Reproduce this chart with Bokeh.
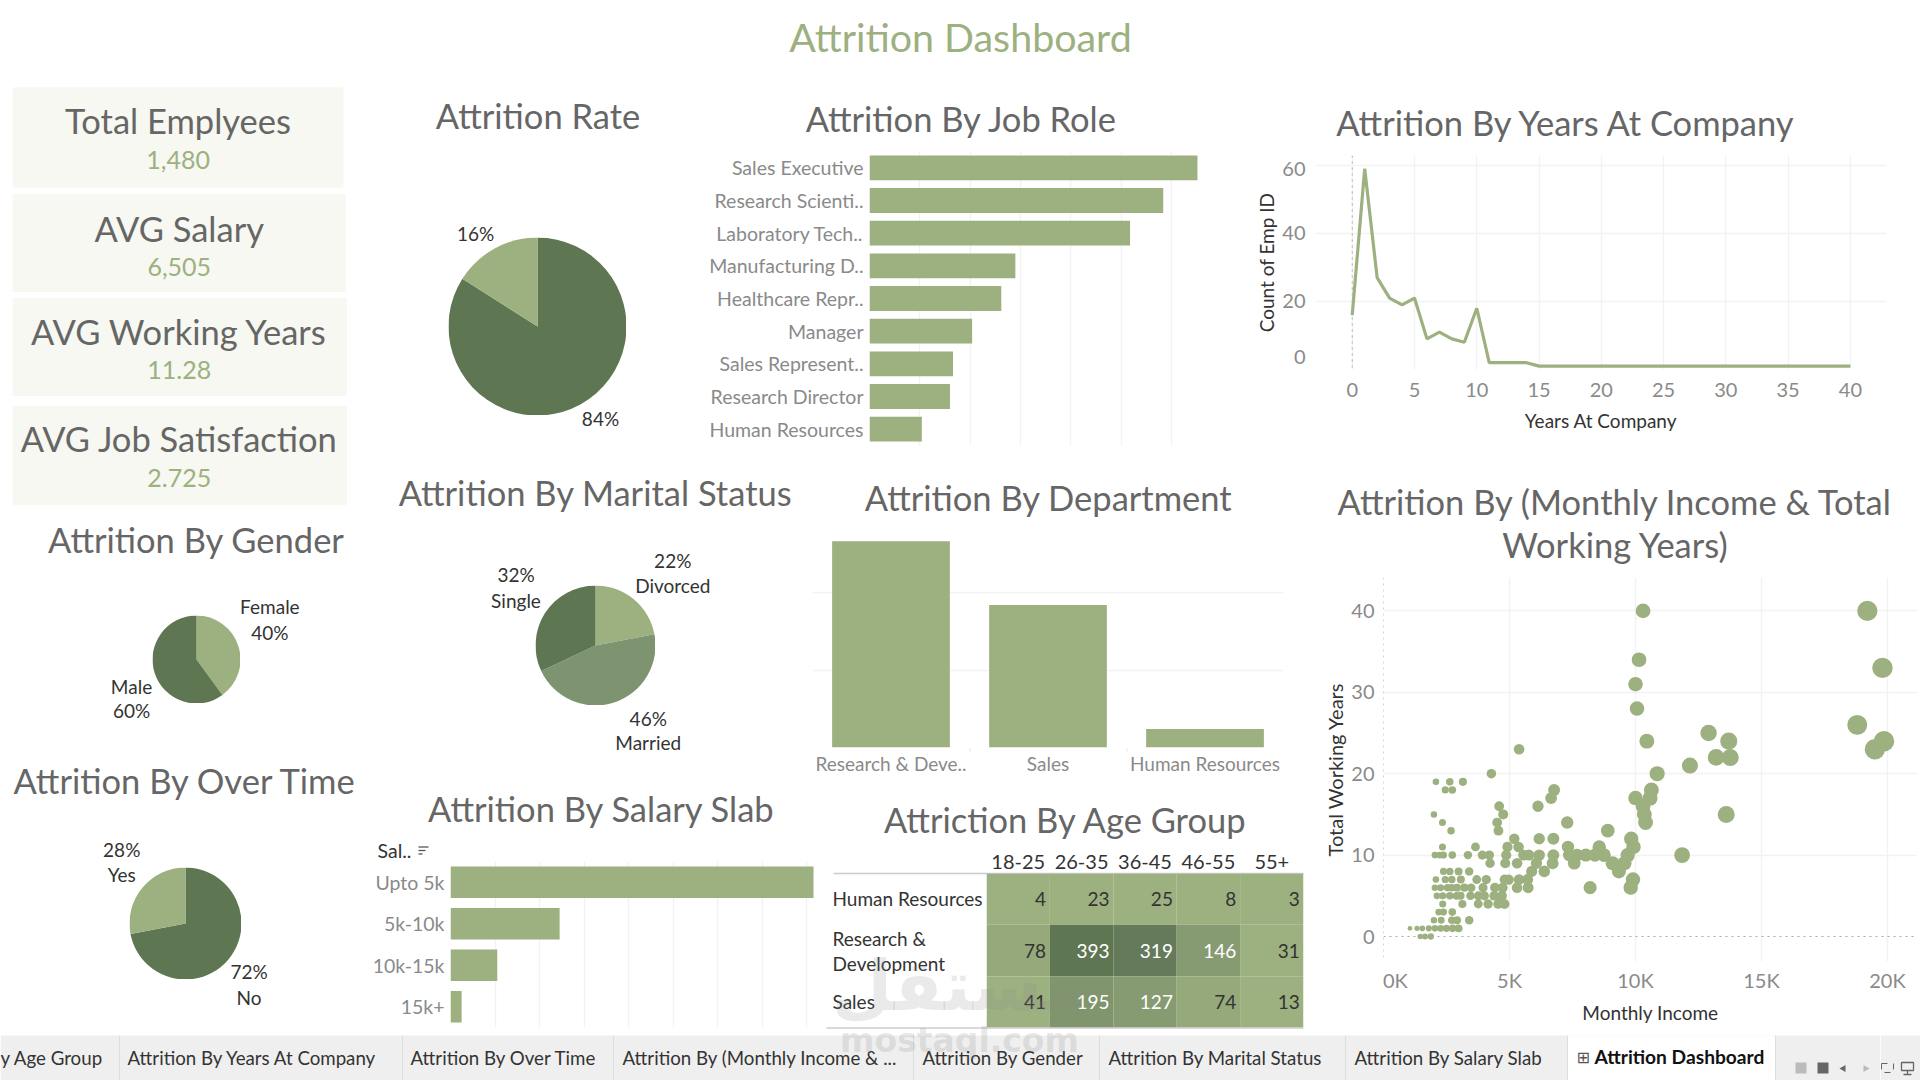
import math
from bokeh.core.properties import value
from bokeh.embed import file_html
from bokeh.resources import INLINE
from bokeh.plotting import figure
from bokeh.layouts import column
from bokeh.models import (ColumnDataSource, FactorRange, FixedTicker, Grid, Range1d, Span,
                          LinearColorMapper)
from bokeh.transform import dodge

# ---------- data ----------
kpi_labels = ["Total Emplyees", "AVG Salary", "AVG Working Years", "AVG Job Satisfaction"]
kpi_values = ["1,480", "6,505", "11.28", "2.725"]

rate_values = [84, 16]
gender_values = [40, 60]
marital_values = [22, 46, 32]
overtime_values = [72, 28]

role_names = ["Sales Executive", "Research Scienti..", "Laboratory Tech..", "Manufacturing D..",
              "Healthcare Repr..", "Manager", "Sales Represent..", "Research Director", "Human Resources"]
role_counts = [326, 292, 259, 145, 131, 102, 83, 80, 52]

dept_names = ["Research & Deve..", "Sales", "Human Resources"]
dept_counts = [133, 92, 12]

slab_names = ["Upto 5k", "5k-10k", "10k-15k", "15k+"]
slab_counts = [163, 49, 21, 5]

age_groups = ["18-25", "26-35", "36-45", "46-55", "55+"]
age_depts = ["Human Resources", "Research & Development", "Sales"]
age_hr = [4, 23, 25, 8, 3]
age_rd = [78, 393, 319, 146, 31]
age_sales = [41, 195, 127, 74, 13]

company_years = list(range(0, 41))
company_counts = [16, 59, 27, 21, 19, 21, 9, 11, 9, 8, 18, 2, 2, 2, 2,
                  1, 1, 1, 1, 1, 1, 1, 1, 1, 1, 1, 1, 1, 1, 1, 1, 1, 1, 1, 1, 1, 1, 1, 1, 1, 1]

scatter_years = [40, 34, 33, 31, 28, 26, 25, 24, 23, 22, 21, 20, 19, 18, 17, 16, 15, 14, 13, 12,
                 11, 10, 9, 8, 7, 6, 5, 4, 3, 2, 1, 0]
scatter_income = [
    [19.2, 10.3], [10.14], [19.8], [10.0], [10.06], [18.8], [12.9], [19.86, 13.7, 10.45],
    [19.5, 5.38], [13.2, 13.76], [12.16], [10.86, 4.28], [2.08, 2.63, 3.15],
    [10.63, 6.77, 2.45, 2.73], [10.58, 10.0, 6.65], [10.3, 6.13, 4.59],
    [13.6, 10.35, 4.75, 2.0], [10.4, 7.29, 4.51, 2.34], [8.9, 4.56, 2.68],
    [9.83, 6.74, 6.18, 5.19], [9.92, 8.56, 7.32, 5.36, 4.92, 3.65, 2.34],
    [11.85, 9.69, 8.75, 8.39, 8.03, 7.68, 7.37, 6.74, 6.18, 5.77, 5.56, 4.87, 4.2, 3.92, 3.35,
     2.04, 2.23, 2.38, 2.73],
    [9.56, 9.09, 7.57, 6.71, 6.07, 5.3, 4.83, 4.23],
    [9.34, 6.38, 5.88, 3.4, 2.38, 2.63, 2.98],
    [9.9, 5.38, 4.97, 4.81, 5.72, 3.7, 4.08, 2.08, 2.45, 2.71, 3.07],
    [9.81, 8.2, 5.74, 5.3, 4.42, 4.73, 3.95, 3.48, 3.21, 2.92, 2.04, 2.27, 2.54, 2.71],
    [3.45, 3.76, 4.0, 4.39, 4.7, 2.12, 2.35, 2.63, 2.9, 3.06],
    [3.76, 4.15, 4.55, 4.8, 3.13, 2.35],
    [2.19, 2.38, 2.73],
    [3.4, 2.71, 2.92, 2.0, 2.29],
    [1.05, 1.33, 1.54, 1.8, 2.04, 2.27, 2.5, 2.74, 2.98],
    [1.46, 1.65, 1.88],
]

tab_labels = ["y Age Group", "Attrition By Years At Company", "Attrition By Over Time",
              "Attrition By (Monthly Income & ...", "Attrition By Gender", "Attrition By Marital Status",
              "Attrition By Salary Slab"]

# ---------- style ----------
FONT = "Lato"
LIGHT, MID, DARK = "#9DB07F", "#7E9470", "#5F7653"
TITLE_C, TICK_C, AX_C, GRID_C = "#666666", "#8a8a8a", "#333333", "#F2F2F2"
S = 1920 / 1568

placed = []


def place(fig, left, top):
    wrap = column(fig, width=fig.width, height=fig.height,
                  styles={"position": "absolute", "left": f"{left:.0f}px", "top": f"{top:.0f}px"})
    placed.append(wrap)
    return fig


def blank(fig):
    fig.background_fill_color = None
    fig.border_fill_color = None
    fig.outline_line_color = None
    fig.grid.visible = False
    return fig


def canvas(x0, y0, x1, y1):
    """A page-coordinate layer with no axes."""
    fig = figure(width=int(x1 - x0), height=int(y1 - y0), x_range=Range1d(x0, x1), y_range=Range1d(y1, y0),
                 min_border=0, output_backend="svg", toolbar_location=None, x_axis_location=None, y_axis_location=None)
    blank(fig)
    place(fig, x0, y0)
    return fig


def frame(x0, y0, x1, y1, x_range, y_range, l=90, r=10, t=10, b=60, **kw):
    fig = figure(width=int(x1 - x0 + l + r), height=int(y1 - y0 + t + b), x_range=x_range, y_range=y_range,
                 min_border_left=l, min_border_right=r, min_border_top=t, min_border_bottom=b,
                 output_backend="svg", toolbar_location=None, **kw)
    blank(fig)
    place(fig, x0 - l, y0 - t)
    return fig


def style_axis(ax, size="20px", color=TICK_C, standoff=6, label_standoff=5):
    ax.axis_line_color = None
    ax.major_tick_line_color = None
    ax.minor_tick_line_color = None
    ax.major_tick_in = 0
    ax.major_tick_out = 0
    ax.minor_tick_in = 0
    ax.minor_tick_out = 0
    ax.major_label_standoff = standoff
    ax.axis_label_standoff = label_standoff
    ax.major_label_text_font = FONT
    ax.major_label_text_font_size = size
    ax.major_label_text_color = color
    ax.axis_label_text_font = FONT
    ax.axis_label_text_font_style = "normal"
    ax.axis_label_text_color = AX_C
    ax.axis_label_text_font_size = "19px"


def grid(fig, dim, ticks):
    fig.add_layout(Grid(dimension=dim, ticker=FixedTicker(ticks=ticks), grid_line_color=GRID_C, grid_line_width=1.3))


# ---------- background page ----------
bg = canvas(0, 0, 1904, 1034)
tabs = canvas(0, 1034, 1880, 1080)
tabs_end = canvas(1880, 1034, 1920, 1080)


def label(x, y, text, size, color=TITLE_C, align="center", style="normal", font=FONT, target=None, alpha=1.0):
    (target or bg).text(x=[x], y=[y], text=[text], text_font=value(font), text_font_size=value(f"{size}px"),
                        text_color=color, text_align=align, text_baseline="middle",
                        text_font_style=style, text_alpha=alpha)


def box(x0, y0, x1, y1, color, target=None):
    (target or bg).quad(left=[x0], right=[x1], top=[y0], bottom=[y1], fill_color=color, line_color=None)


def line(x0, y0, x1, y1, color, width=1.0, target=None):
    (target or bg).line(x=[x0, x1], y=[y0, y1], line_color=color, line_width=width)


label(784 * S, 29.5 * S, "Attrition Dashboard", 39.4, color=LIGHT)

cards = [(10, 71, 280, 153, 145, 98, 130), (10, 158, 282, 238, 146, 186, 217.5),
         (10, 243, 283, 323, 146, 270, 301.5), (10, 331, 283, 412, 146, 358, 390)]
for (x0, y0, x1, y1, cx, ly, vy), name, val in zip(cards, kpi_labels, kpi_values):
    box(x0 * S, y0 * S, x1 * S, y1 * S, "#F6F8F1")
    label(cx * S, ly * S, name, 34.5)
    label(cx * S, vy * S, val, 25, color=LIGHT)

titles = [("Attrition Rate", 439, 94), ("Attrition By Job Role", 785, 96), ("Attrition By Years At Company", 1279, 100),
          ("Attrition By Marital Status", 486, 402), ("Attrition By Department", 856, 406),
          ("Attrition By (Monthly Income & Total", 1319, 409), ("Working Years)", 1319, 444),
          ("Attrition By Gender", 160, 440), ("Attrition By Over Time", 151, 637),
          ("Attrition By Salary Slab", 491, 660), ("Attriction By Age Group", 870, 669)]
for text, cx, cy in titles:
    label(cx * S, cy * S, text, 34.5)

pie_labels = [("16%", 388, 190), ("84%", 490, 341), ("Female", 220, 495), ("40%", 220, 516), ("Male", 107, 560),
              ("60%", 107, 580), ("22%", 549, 457), ("Divorced", 549, 478), ("32%", 421, 469), ("Single", 421, 490),
              ("46%", 529, 586), ("Married", 529, 606), ("28%", 99, 693), ("Yes", 99, 714), ("72%", 203, 793),
              ("No", 203, 814)]
for text, cx, cy in pie_labels:
    label(cx * S, cy * S, text, 19, color="#333333")

label(377, 850, "Sal..", 19.5, color="#333333", align="left")
for (x0, x1, yy) in [(418, 428, 846.5), (418, 425, 850), (418, 422, 853.5)]:
    line(x0, yy, x1, yy, "#555555", 1.3)

# table rules and row labels of the age heat map
line(833, 873, 1303, 873, "#cccccc", 1.5)
line(826, 1027.5, 1303, 1027.5, "#cccccc", 1.5)
line(806, 861, 806, 1027, "#f0f0f0", 1)
row_labels = [("Human Resources", 898), ("Research &", 938), ("Development", 963), ("Sales", 1001)]
for text, yy in row_labels:
    label(832, yy, text, 19, color="#333333", align="left")

# small separators under the department bars
for xx in [969.5, 1126.5]:
    line(xx, 748, xx, 751, "#E4E4E4", 1)

# tab bar
box(0, 1035, 1880, 1080, "#EFEFEF", target=tabs)
box(1880, 1035, 1920, 1080, "#EFEFEF", target=tabs_end)
box(1567, 1035, 1775, 1080, "#FFFFFF", target=tabs)
for xx in [119, 402, 613, 913, 1099, 1345, 1567, 1775]:
    line(xx, 1035, xx, 1080, "#DDDDDD", 1, target=tabs)
tab_x = [0, 127, 410, 622, 922, 1108, 1354]
for text, xx in zip(tab_labels, tab_x):
    label(xx, 1057, text, 18.7, color="#333333", align="left", target=tabs)
label(1576, 1057, "\u229e", 16, color="#555555", align="left", font="DejaVu Sans", target=tabs)
label(1594, 1056, "Attrition Dashboard", 19.2, color="#111111", align="left", style="bold", target=tabs)
box(1795, 1062, 1806, 1073, "#BBBBBB", target=tabs)
box(1817, 1062, 1828, 1073, "#666666", target=tabs)
tabs.scatter(x=[1843], y=[1068], size=7, marker="triangle", angle=math.pi / 2, fill_color="#666666", line_color=None)
tabs.scatter(x=[1865], y=[1068], size=7, marker="triangle", angle=-math.pi / 2, fill_color="#BBBBBB", line_color=None)
tabs_end.quad(left=[1881], right=[1893], top=[1063], bottom=[1072], fill_color=None, line_color="#666666", line_dash="dashed")
tabs_end.quad(left=[1901], right=[1913], top=[1062], bottom=[1070], fill_color=None, line_color="#666666", line_width=1.3)
line(1907, 1070, 1907, 1074, "#666666", 1.3, target=tabs_end)
line(1903, 1074, 1911, 1074, "#666666", 1.3, target=tabs_end)


# ---------- pies ----------
def pie(cx, cy, r, values, colors):
    fig = figure(width=int(2 * r), height=int(2 * r), x_range=Range1d(-1, 1), y_range=Range1d(-1, 1), min_border=0,
                 output_backend="svg", toolbar_location=None, x_axis_location=None, y_axis_location=None)
    blank(fig)
    place(fig, cx - r, cy - r)
    total = sum(values)
    acc, starts, ends = 0, [], []
    for v in values:
        starts.append(math.pi / 2 - 2 * math.pi * acc / total)
        acc += v
        ends.append(math.pi / 2 - 2 * math.pi * acc / total)
    src = ColumnDataSource(dict(start=starts, end=ends, color=colors))
    fig.wedge(x=0, y=0, radius=1, start_angle="start", end_angle="end", direction="clock",
              fill_color="color", line_color=None, source=src)
    return fig


pies = [pie(537.5, 325.7, 89, rate_values, [DARK, LIGHT]),
        pie(196, 658.8, 44, gender_values, [LIGHT, DARK]),
        pie(595, 645, 60, marital_values, [LIGHT, MID, DARK]),
        pie(185, 923, 56, overtime_values, [DARK, LIGHT])]


# ---------- horizontal bars ----------
def hbars(x0, y0, x1, y1, names, values, px_per_unit, step, left_pad, bar=0.76, size="19.5px"):
    fig = frame(x0, y0, x1, y1, Range1d(0, (x1 - x0) / px_per_unit), FactorRange(*names[::-1], range_padding=0, factor_padding=0),
                l=left_pad, r=4, t=4, b=4, x_axis_location=None)
    blank(fig)
    ticks = [step * i for i in range(0, int((x1 - x0) / px_per_unit / step) + 1)]
    grid(fig, 0, ticks)
    style_axis(fig.yaxis[0], size=size, standoff=6)
    fig.hbar(y=names, right=values, left=0, height=bar, fill_color=LIGHT, line_color=None)
    return fig


role_fig = hbars(869, 151, 1205, 445, role_names, role_counts, 1.006, 50, 180)
slab_fig = hbars(450, 861, 825, 1027, slab_names, slab_counts, 2.227, 20, 90)

# ---------- department ----------
dept_range = FactorRange(*dept_names, range_padding=0, factor_padding=0)
dept_fig = frame(812.5, 530, 1283.5, 747, dept_range, Range1d(0, 217 / 1.55), l=4, r=4, t=4, b=40, y_axis_location=None)
grid(dept_fig, 1, [0, 50, 100])
style_axis(dept_fig.xaxis[0], size="19px", standoff=4)
dept_fig.vbar(x=dept_names, top=dept_counts, width=0.75, fill_color=LIGHT, line_color=None)

# ---------- line ----------
line_fig = frame(1314.6, 155, 1886, 369.3, Range1d(-2.95, 42.9), Range1d(0, 62.9), l=70, r=10, t=6, b=70)
grid(line_fig, 0, [0, 5, 10, 15, 20, 25, 30, 35, 40])
grid(line_fig, 1, [0, 20, 40, 60])
line_fig.xaxis.ticker = FixedTicker(ticks=[0, 5, 10, 15, 20, 25, 30, 35, 40])
line_fig.yaxis.ticker = FixedTicker(ticks=[3.7, 20, 40, 58.9])
line_fig.yaxis.major_label_overrides = {3.7: "0", 20: "20", 40: "40", 58.9: "60"}
style_axis(line_fig.xaxis[0], standoff=13, label_standoff=9)
style_axis(line_fig.yaxis[0], standoff=10, label_standoff=1)
line_fig.xaxis.axis_label = "Years At Company"
line_fig.yaxis.axis_label = "Count of Emp ID"
line_fig.add_layout(Span(location=0, dimension="height", line_color="#aaaaaa", line_dash="dotted", line_width=1))
line_fig.line(company_years, company_counts, line_color=LIGHT, line_width=3.2)

# ---------- scatter ----------
xs, ys = [], []
for yr, incomes in zip(scatter_years, scatter_income):
    xs += incomes
    ys += [yr] * len(incomes)
sizes = [4.6 * math.sqrt(v) for v in xs]
sc_src = ColumnDataSource(dict(income=xs, years=ys, size=sizes))
sc_fig = frame(1383, 577, 1917, 961, Range1d(0, 534 / 25.2), Range1d(-3.07, 44.1), l=70, r=0, t=6, b=70)
grid(sc_fig, 0, [5, 10, 15, 20])
grid(sc_fig, 1, [-3.07, 10, 20, 30, 40])
sc_fig.xaxis.ticker = FixedTicker(ticks=[0.47, 5, 10, 15, 20])
sc_fig.xaxis.major_label_overrides = {0.47: "0K", 5: "5K", 10: "10K", 15: "15K", 20: "20K"}
sc_fig.yaxis.ticker = FixedTicker(ticks=[0, 10, 20, 30, 40])
style_axis(sc_fig.xaxis[0], standoff=6, label_standoff=6)
style_axis(sc_fig.yaxis[0], standoff=9, label_standoff=1)
sc_fig.xaxis.axis_label = "Monthly Income"
sc_fig.yaxis.axis_label = "Total Working Years"
sc_fig.yaxis.axis_label_text_font_size = "20px"
sc_fig.add_layout(Span(location=0, dimension="height", line_color="#aaaaaa", line_dash="dotted", line_width=1))
sc_fig.add_layout(Span(location=0, dimension="width", line_color="#aaaaaa", line_dash="dotted", line_width=1))
sc_fig.scatter("income", "years", size="size", fill_color=LIGHT, line_color=None, source=sc_src)

# ---------- heat map ----------
rows_long = [age_depts[0]] * 5 + [age_depts[1]] * 5 + [age_depts[2]] * 5
cols_long = age_groups * 3
vals_long = age_hr + age_rd + age_sales
hm_src = ColumnDataSource(dict(row=rows_long, col=cols_long, val=vals_long, txt=[str(v) for v in vals_long],
                               tc=["#ffffff" if v >= 120 else "#333333" for v in vals_long]))
hm_x = FactorRange(*age_groups, range_padding=0, factor_padding=0)
hm_y = FactorRange(*age_depts[::-1], range_padding=0, factor_padding=0)
hm_fig = frame(986, 873, 1303, 1027, hm_x, hm_y, l=4, r=4, t=30, b=4, x_axis_location="above", y_axis_location=None)
style_axis(hm_fig.xaxis[0], size="20px", color="#333333", standoff=5)
mapper = LinearColorMapper(palette=["#9DB07F", "#96A97B", "#8EA276", "#879B72", "#80956D", "#798E69", "#728864",
                                    "#6B8160", "#647A5B", "#5F7653"], low=3, high=393)
hm_fig.rect(x="col", y="row", width=1, height=1, fill_color={"field": "val", "transform": mapper}, line_color=None, source=hm_src)
hm_fig.text(x=dodge("col", 0.44, range=hm_x), y="row", text="txt", text_align="right", text_baseline="middle",
            text_font=value(FONT), text_font_size=value("19px"), text_color="tc", source=hm_src)

# ---------- watermark ----------
over = canvas(700, 780, 1400, 1075)
label(959, 985, "\u0645\u0633\u062a\u0642\u0644", 70, color="#888888", style="bold", font="DejaVu Sans", target=over, alpha=0.18)
label(959, 1040, "mostaql.com", 33, color="#888888", style="bold", font="DejaVu Sans", target=over, alpha=0.2)

root = column(*placed, width=1904, height=1064)
open("out.html", "w").write(file_html(root, INLINE))
